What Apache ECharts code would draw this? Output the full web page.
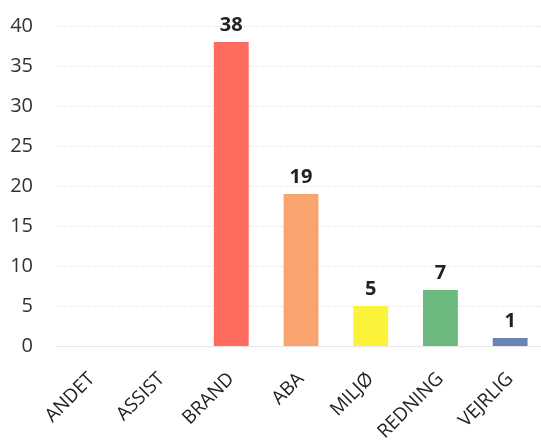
<!DOCTYPE html>
<html>
<head>
<meta charset="utf-8">
<script src="https://cdn.jsdelivr.net/npm/echarts@6/dist/echarts.min.js"></script>
<style>
html,body{margin:0;padding:0;background:#fff;}
#main{width:541px;height:441px;}
</style>
</head>
<body>
<div id="main"></div>
<script>
// kategorier og antal
var categories = ['ANDET', 'ASSIST', 'BRAND', 'ABA', 'MILJØ', 'REDNING', 'VEJRLIG'];
var counts = [null, null, 38, 19, 5, 7, 1];
var barColors = ['#ff6b5e', '#ff6b5e', '#ff6b5e', '#f9a46f', '#fbf23a', '#6cb97f', '#6b83b6'];

var myChart = echarts.init(document.getElementById('main'));

var option = {
    animation: false,
    grid: {
        left: 57,
        right: -4,
        top: 26,
        bottom: 95,
        outerBoundsMode: 'none'
    },
    xAxis: {
        type: 'category',
        data: categories,
        axisLine: { show: true, lineStyle: { color: '#e6e6e6' } },
        axisTick: { show: false },
        axisLabel: {
            interval: 0,
            rotate: 45,
            color: '#222',
            fontSize: 19,
            fontFamily: 'Open Sans',
            margin: 30
        }
    },
    yAxis: {
        type: 'value',
        min: 0,
        max: 40,
        interval: 5,
        axisLine: { show: false },
        axisTick: { show: false },
        axisLabel: {
            color: '#333',
            fontSize: 20,
            fontFamily: 'Open Sans',
            margin: 24
        },
        splitLine: { lineStyle: { color: '#ececec', type: 'dashed' } }
    },
    series: [{
        type: 'bar',
        barWidth: '50%',
        data: counts.map(function (v, i) {
            return { value: v, itemStyle: { color: barColors[i] } };
        }),
        label: {
            show: true,
            position: 'top',
            distance: 7,
            color: '#222',
            fontSize: 20,
            fontWeight: 'bold',
            fontFamily: 'Open Sans'
        }
    }]
};

myChart.setOption(option);
</script>
</body>
</html>
